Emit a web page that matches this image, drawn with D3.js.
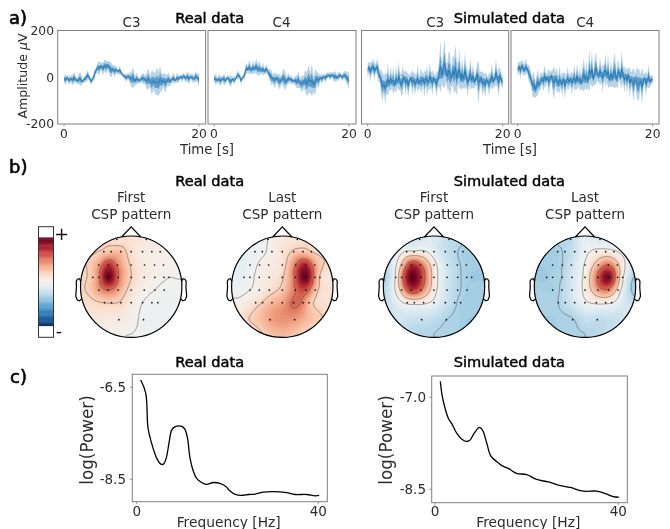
<!DOCTYPE html>
<html><head><meta charset="utf-8">
<script src="https://cdn.jsdelivr.net/npm/d3@7"></script>
<style>
html,body{margin:0;padding:0;background:#fff}
svg{display:block;font-family:'DejaVu Sans',sans-serif;filter:blur(0.35px)}
</style></head><body><div id="chart"></div>
<script>
// ---------- panel a: amplitude traces (mean and spread, µV) ----------
const realC3Mean=[-8,-10,-3,-14,-6,-12,-2,-10,-16,-6,-10,-18,-8,-4,10,-2,-18,-8,10,30,42,38,48,36,50,42,52,38,30,34,26,32,24,30,18,8,2,-2,4,-4,-8,-2,-16,-6,-12,-14,-4,-6,-10,-16,-6,-18,-24,-14,-26,-18,-28,-8,-22,-12,-26,-14,-10,-18,-8,-4,-14,-2,-8,2,-4,6,-6,4,-8,2,-2,-8,4,-2,-12];
const realC3Spread=[14,24,10,20,12,22,26,12,14,24,28,10,12,18,22,10,16,10,22,12,24,28,14,26,24,30,18,30,32,16,26,14,10,20,12,8,14,16,12,22,34,44,20,26,14,12,18,24,18,36,44,24,54,38,44,60,50,56,36,28,42,24,30,18,14,24,10,22,16,10,18,12,16,20,24,10,18,14,24,16,30];
const realC4Mean=[-4,-10,-12,-8,-16,-6,-10,-14,-2,-12,-18,-8,-14,-4,10,6,-14,-2,8,38,34,44,30,42,36,48,32,38,30,34,26,36,22,10,-2,-8,-14,-4,-12,-20,-10,-2,-14,-18,-6,-8,-12,-16,-14,-20,-10,-26,-28,-22,-14,-30,-8,-22,-12,-32,-20,-6,-14,-2,-8,2,-4,6,8,4,10,2,4,-2,6,8,-2,10,4,-6,-14];
const realC4Spread=[12,24,10,20,22,10,26,14,10,20,24,10,18,8,20,12,18,8,16,24,16,30,14,28,18,32,24,30,14,26,14,20,14,26,32,20,34,18,28,32,18,38,42,20,24,14,20,10,20,26,36,20,38,26,44,52,60,44,68,34,54,30,32,12,22,10,20,14,10,18,10,20,22,12,20,10,16,14,24,26,34];
const simC3Mean=[30,42,22,40,48,25,38,45,18,5,-20,-42,-30,-48,-25,-10,-28,-5,-22,-12,-30,-8,-18,5,-20,-32,-12,-2,-25,-8,-38,-15,-5,-22,-12,-30,-18,-4,-25,-12,-20,-8,-28,-6,-15,-22,5,-12,-24,-5,-18,-30,-8,20,45,10,35,60,22,5,30,12,-2,28,8,42,-5,18,35,-10,15,-8,28,5,-25,-5,18,-12,5,-20,-8,12,-25,-15,-5,-28,-18,-35,-10,-22,-30,-12,5,-18,-8,20,-5,-25,8,-12,-20];
const simC3Spread=[36,20,42,24,32,38,18,34,40,22,54,62,36,66,40,70,30,52,28,60,26,58,24,64,34,50,58,22,54,32,52,26,22,54,30,48,24,60,22,40,50,22,56,30,62,26,58,32,54,22,28,56,32,64,110,40,78,105,42,58,82,90,36,62,76,98,74,44,84,38,66,36,78,42,58,28,72,32,52,30,26,50,92,38,28,54,32,52,26,24,50,28,56,30,26,62,28,64,34,26,30];
const simC4Mean=[32,44,28,48,38,30,45,36,20,8,-12,-38,-30,-52,-35,-20,-32,-15,-8,-18,5,-12,-2,-20,-8,5,-18,-25,-5,-14,-28,-10,-20,-30,-8,-38,-15,-5,-20,-8,-25,-12,-2,-20,5,-15,-8,-22,-4,12,-10,5,-15,30,12,35,-8,22,40,15,5,28,10,-5,20,32,8,25,-10,15,-5,18,30,-8,10,25,-2,35,12,-12,5,-15,10,-25,-8,-20,-32,-10,-18,-35,-28,-15,-40,-20,-5,-28,-15,5,-20,-8,-12];
const simC4Spread=[32,20,38,22,34,20,36,18,34,38,28,44,58,34,46,56,24,38,22,42,46,26,20,58,30,24,52,70,26,56,30,60,24,52,26,58,20,52,30,24,50,26,56,30,58,22,48,28,54,70,36,62,30,92,38,78,28,56,70,32,26,60,30,58,32,70,28,72,30,58,34,60,78,30,60,36,28,82,32,58,26,56,26,66,28,50,72,24,58,70,62,28,80,36,22,50,26,52,24,20,18];
const ampTicks=[200,0,-200];
const timeTicks=[0,20];
const channelNames=["C3","C4","C3","C4"];

// ---------- panel b: scalp patterns, values at the sensors ----------
const sensorRows=[
 {dy:-142,dx:[-43,45]},
 {dy:-105,dx:[-82,-60,-31,0,34,62,87]},
 {dy:-65,dx:[-97,-68,-41,0,40,70,97]},
 {dy:-28,dx:[-115,-97,-69,-39,0,39,71,98,113]},
 {dy:10,dx:[-97,-69,-39,0,39,71,99]},
 {dy:48,dx:[-80,-59,-31,0,34,62,80]},
 {dy:99,dx:[-37,37]}];
const realFirst=[.14,.1, .25,.3,.3,.14,.07,.05,.04, .42,.75,.5,.2,.08,.05,.03, .3,.5,1,.55,.22,.08,.03,.01,0, .42,.55,.4,.15,.03,0,-.02, .22,.23,.2,.08,0,-.02,-.03, .08,-.03];
const realFirstEdge=[.14,.07,.04,-.01,-.03,-.03,-.02,.04,.12,.2,.22,.2];
const realFirstFill=[.12,.04,-.03,.0];
const realLast=[0,.12, -.05,-.03,.05,.12,.25,.28,.22, -.06,.02,.08,.14,.55,.8,.42, -.07,-.03,.04,.1,.2,.6,1,.45,.2, 0,.06,.16,.27,.55,.65,.3, .16,.23,.33,.4,.58,.5,.3, .4,.42];
const realLastEdge=[.08,.18,.2,.15,.18,.2,.28,.18,.08,-.03,-.08,-.05];
const realLastFill=[.21,.42,.26,.33];
const simFirst=[-.15,-.25, .02,.02,.03,-.1,-.22,-.28,-.33, .25,.75,.6,.08,-.2,-.28,-.33, .02,.45,1,.75,.12,-.18,-.28,-.33,-.36, .3,.72,.55,.08,-.2,-.28,-.33, .04,.06,.04,-.05,-.2,-.28,-.33, -.22,-.3];
const simFirstEdge=[-.12,-.28,-.34,-.36,-.36,-.34,-.3,-.26,-.2,-.3,-.2,-.18];
const simFirstFill=[-.17,-.27,-.35,-.3];
const simLast=[-.25,-.15, -.33,-.28,-.2,-.05,.05,.07,.03, -.34,-.3,-.2,.02,.35,.55,.28, -.36,-.31,-.3,-.15,.05,.6,.95,.35,.03, -.33,-.28,-.15,.05,.42,.5,.12, -.3,-.25,-.15,-.03,.03,.03,.01, -.31,-.25];
const simLastEdge=[-.06,-.12,-.1,-.38,-.15,-.22,-.3,-.33,-.33,-.34,-.34,-.28];
const simLastFill=[-.33,-.25,-.2,-.3];
const contourLevels=[-.3,0,.22,.55,.85];

// ---------- panel c: power spectra ----------
const realFreq=[.88,1.98,2.5,3.3,4.4,5.3,5.9,6.5,7.1,7.7,8.4,9.9,10.6,11.2,11.7,12.5,13.2,14.3,15.4,16.9,18.3,19.7,20.5,21.7,23.1,24.6,26.1,27.9,30.1,33,34.9,37.4,39.3,40.2];
const realPower=[-6.34,-6.62,-7.39,-7.72,-8.04,-8.17,-8.17,-8.04,-7.72,-7.43,-7.36,-7.35,-7.41,-7.61,-8.01,-8.33,-8.48,-8.57,-8.61,-8.57,-8.59,-8.66,-8.75,-8.83,-8.85,-8.83,-8.82,-8.78,-8.77,-8.79,-8.83,-8.83,-8.86,-8.85];
const simFreq=[1.16,1.6,2.2,2.9,3.8,4.7,5.8,6.8,7.6,8.6,9.7,10.4,11.3,12.2,13.5,14.5,16,17.8,20,22.2,24.7,26.9,29.5,32.4,35.3,37.5,38.9,40.1];
const simPower=[-6.74,-6.99,-7.18,-7.34,-7.45,-7.58,-7.68,-7.72,-7.70,-7.58,-7.49,-7.54,-7.75,-7.96,-8.05,-8.11,-8.16,-8.24,-8.26,-8.34,-8.38,-8.43,-8.47,-8.53,-8.53,-8.58,-8.62,-8.63];

const W=670,H=529;
const svg=d3.select("#chart").append("svg").attr("width",W).attr("height",H).attr("viewBox",`0 0 ${W} ${H}`);
const SPINE="#7f7f7f",TXT="#2b2b2b",BLUE="#1f77b4";
function text(s,x,y,size,opt={}){
  const t=svg.append("text").attr("x",x).attr("y",y).attr("font-size",size)
    .attr("text-anchor",opt.anchor||"middle").attr("fill",opt.fill||TXT).text(s);
  if(opt.rotate) t.attr("transform",`rotate(-90 ${x} ${y})`);
  if(opt.heavy) t.attr("stroke",opt.fill||"#000").attr("stroke-width",opt.heavy);
  return t;
}

// headings
[["a)",9,24],["b)",9,172.5],["c)",10,383]].forEach(d=>text(d[0],d[1],d[2],18,{anchor:"start",fill:"#000",heavy:.6}));
[["Real data",209.7,23.3],["Simulated data",509.3,23.3],["Real data",209.7,186],["Simulated data",509.3,186],["Real data",209.7,367.3],["Simulated data",509.3,367.3]]
  .forEach(d=>text(d[0],d[1],d[2],14.6,{fill:"#000",heavy:.45}));

// ---------- panel a ----------
const traces=[
 {mean:realC3Mean,spread:realC3Spread,box:[57.7,205.6],zero:64},
 {mean:realC4Mean,spread:realC4Spread,box:[208,356],zero:214},
 {mean:simC3Mean,spread:simC3Spread,box:[361.5,508.7],zero:367.7},
 {mean:simC4Mean,spread:simC4Spread,box:[511,659],zero:517.7}];
const ampY=d3.scaleLinear().domain([-200,200]).range([124,30.5]);
traces.forEach((tr,i)=>{
  const x=d3.scaleLinear().domain([0,20]).range([tr.zero,tr.zero+135]);
  const dt=20/(tr.mean.length-1);
  const g=svg.append("g");
  const band=f=>d3.area().x((d,k)=>x(k*dt)).y0((d,k)=>ampY(d-f*tr.spread[k])).y1((d,k)=>ampY(d+f*tr.spread[k]));
  g.append("path").datum(tr.mean).attr("fill",BLUE).attr("fill-opacity",.32).attr("d",band(1));
  g.append("path").datum(tr.mean).attr("fill",BLUE).attr("fill-opacity",.6).attr("d",band(.45));
  g.append("path").datum(tr.mean).attr("fill","none").attr("stroke",BLUE).attr("stroke-width",.9)
    .attr("d",d3.line().x((d,k)=>x(k*dt)).y(d=>ampY(d)));
  g.append("rect").attr("x",tr.box[0]).attr("y",ampY(200)).attr("width",tr.box[1]-tr.box[0]).attr("height",ampY(-200)-ampY(200))
    .attr("fill","none").attr("stroke",SPINE).attr("stroke-width",1);
  timeTicks.forEach(t=>{
    g.append("line").attr("x1",x(t)).attr("x2",x(t)).attr("y1",124).attr("y2",126.5).attr("stroke",SPINE).attr("stroke-width",.8);
    text(t,x(t),137.5,12.3);
  });
  text(channelNames[i],(tr.zero+67.5),26.7,13.5);
});
ampTicks.forEach(v=>{
  text(v===-200?"-200":v,54,ampY(v)+4.3,12.3,{anchor:"end"});
});
const ampLabel=text("",23,76,12.6,{rotate:true}).attr("dominant-baseline","middle");
ampLabel.append("tspan").text("Amplitude ");
ampLabel.append("tspan").attr("font-style","italic").text("μ");
ampLabel.append("tspan").text("V");
text("Time [s]",207,154,13.3);
text("Time [s]",510,154,13.3);

// ---------- panel b ----------
const heads=[
 {cx:131.2,vals:realFirst,edge:realFirstEdge,fill:realFirstFill,t:"First"},
 {cx:282.3,vals:realLast,edge:realLastEdge,fill:realLastFill,t:"Last"},
 {cx:434,vals:simFirst,edge:simFirstEdge,fill:simFirstFill,t:"First"},
 {cx:585,vals:simLast,edge:simLastEdge,fill:simLastFill,t:"Last"}];
const headR=50.7,headCy=286.7,pxUnit=152;
const sensors=sensorRows.flatMap(r=>r.dx.map(dx=>[dx/pxUnit,r.dy/pxUnit]));
const edgePts=d3.range(12).map(k=>{const a=k*Math.PI/6;return [1.03*Math.sin(a),-1.03*Math.cos(a)];});
const fillPts=[[-.68,.6],[0,.72],[.68,.6],[0,.93]];
const G=r=>r>1e-9?r*r*(Math.log(r)-1):0;
function solve(A,b){
  const n=b.length;A=A.map(r=>r.slice());b=b.slice();
  for(let i=0;i<n;i++){
    let p=i;for(let r=i+1;r<n;r++)if(Math.abs(A[r][i])>Math.abs(A[p][i]))p=r;
    [A[i],A[p]]=[A[p],A[i]];[b[i],b[p]]=[b[p],b[i]];
    for(let r=i+1;r<n;r++){const f=A[r][i]/A[i][i];for(let c=i;c<n;c++)A[r][c]-=f*A[i][c];b[r]-=f*b[i];}
  }
  const x=new Array(n);
  for(let i=n-1;i>=0;i--){let s=b[i];for(let c=i+1;c<n;c++)s-=A[i][c]*x[c];x[i]=s/A[i][i];}
  return x;
}
const red=t=>d3.interpolateRdBu(1-t);
const colorOf=d3.scaleLinear().domain([-1,1]).range([0,1]).clamp(true);
const earX=[.497,.510,.518,.5299,.5419,.54,.547,.532,.510,.489].map(v=>v*2);
const earY=[.0555,.0775,.0783,.0746,.0555,-.0055,-.0932,-.1313,-.1384,-.1199].map(v=>v*2);
const noseX=[.19,0,-.19],noseY=[.98,1.18,.98];
const defs=svg.append("defs");
heads.forEach((h,i)=>{
  const sx=d3.scaleLinear().domain([-1,1]).range([h.cx-headR,h.cx+headR]);
  const sy=d3.scaleLinear().domain([-1,1]).range([headCy-headR,headCy+headR]);
  const pts=sensors.concat(edgePts,fillPts),vals=h.vals.concat(h.edge,h.fill);
  const A=pts.map(p=>pts.map(q=>G(Math.hypot(p[0]-q[0],p[1]-q[1]))));
  const w=solve(A,vals);
  const N=150,gridX=d3.scaleLinear().domain([0,N]).range([-1.04,1.04]);
  const field=new Float64Array(N*N);
  for(let j=0;j<N;j++)for(let k=0;k<N;k++){
    const x=gridX(k+.5),y=gridX(j+.5);let s=0;
    for(let m=0;m<pts.length;m++)s+=w[m]*G(Math.hypot(x-pts[m][0],y-pts[m][1]));
    field[j*N+k]=s;
  }
  const proj=d3.geoTransform({point(x,y){this.stream.point(sx(gridX(x)),sy(gridX(y)));}});
  const path=d3.geoPath(proj);
  defs.append("clipPath").attr("id","hc"+i).append("circle").attr("cx",h.cx).attr("cy",headCy).attr("r",headR);
  const g=svg.append("g");
  const c=g.append("g").attr("clip-path",`url(#hc${i})`);
  const fillLevels=d3.range(-1.3,1.3,.025);
  c.append("circle").attr("cx",h.cx).attr("cy",headCy).attr("r",headR).attr("fill",red(colorOf(-1.3)));
  c.selectAll("path.f").data(d3.contours().size([N,N]).thresholds(fillLevels)(field)).join("path")
    .attr("d",path).attr("fill",d=>red(colorOf(d.value+.0125)));
  c.selectAll("path.l").data(d3.contours().size([N,N]).thresholds(contourLevels)(field)).join("path")
    .attr("class","l").attr("d",path).attr("fill","none").attr("stroke","#444").attr("stroke-opacity",.75).attr("stroke-width",.65);
  g.selectAll("circle.s").data(sensors).join("circle").attr("class","s")
    .attr("cx",d=>sx(d[0])).attr("cy",d=>sy(d[1])).attr("r",.85).attr("fill","#111");
  g.append("circle").attr("cx",h.cx).attr("cy",headCy).attr("r",headR).attr("fill","none").attr("stroke","#000").attr("stroke-width",1.2);
  const ln=d3.line().x(d=>sx(d[0])).y(d=>sy(-d[1]));
  const st=sel=>sel.attr("fill","none").attr("stroke","#000").attr("stroke-width",1.2);
  st(g.append("path").datum(noseX.map((v,k)=>[v,noseY[k]])).attr("d",ln));
  st(g.append("path").datum(earX.map((v,k)=>[v,earY[k]])).attr("d",ln));
  st(g.append("path").datum(earX.map((v,k)=>[-v,earY[k]])).attr("d",ln));
  text(h.t,h.cx,201.7,13.5);
  text("CSP pattern",h.cx,219.3,13.5);
});
// colour bar
const barY=d3.scaleLinear().domain([-1,1]).range([325.7,238.3]);
const barSteps=d3.range(-1,1.0001,.02);
svg.append("rect").attr("x",38.5).attr("y",226.7).attr("width",15).attr("height",110.6).attr("fill","#fff");
svg.append("g").selectAll("rect").data(barSteps).join("rect")
  .attr("x",38.5).attr("width",15).attr("y",d=>barY(d+.02)).attr("height",barY(-1)-barY(-.98)+.4)
  .attr("fill",d=>red(colorOf(d+.01)));
svg.append("rect").attr("x",38.5).attr("y",226.7).attr("width",15).attr("height",110.6).attr("fill","none").attr("stroke","#333").attr("stroke-width",1);
text("+",61.5,240,17.5,{fill:"#111"});
text("-",59,337,17.5,{fill:"#111"});

// ---------- panel c ----------
const spectra=[
 {f:realFreq,p:realPower,box:[132.3,327.3,374.3,501.7],x:[136.7,318.3],dom:[-6.5,-8.5],yr:[387.3,479.3],label:87,tickX:126,xl:228.7,xt:["-6.5","-8.5"]},
 {f:simFreq,p:simPower,box:[431.7,627.3,376,502.7],x:[435,618.3],dom:[-7,-8.5],yr:[397.3,489.3],label:386.7,tickX:426,xl:528.3,xt:["-7.0","-8.5"]}];
const freqTicks=[0,40];
spectra.forEach(s=>{
  const x=d3.scaleLinear().domain([0,40]).range(s.x);
  const y=d3.scaleLinear().domain(s.dom).range(s.yr);
  svg.append("rect").attr("x",s.box[0]).attr("y",s.box[2]).attr("width",s.box[1]-s.box[0]).attr("height",s.box[3]-s.box[2])
    .attr("fill","none").attr("stroke",SPINE).attr("stroke-width",1);
  svg.append("path").datum(s.f).attr("fill","none").attr("stroke","#000").attr("stroke-width",1.3)
    .attr("d",d3.line().curve(d3.curveCatmullRom).x(d=>x(d)).y((d,k)=>y(s.p[k])));
  freqTicks.forEach(t=>{
    svg.append("line").attr("x1",x(t)).attr("x2",x(t)).attr("y1",s.box[3]).attr("y2",s.box[3]+2.5).attr("stroke",SPINE).attr("stroke-width",.8);
    text(t,x(t),516,13.5);
  });
  s.dom.forEach((v,k)=>{
    svg.append("line").attr("x1",s.box[0]-2.5).attr("x2",s.box[0]).attr("y1",y(v)).attr("y2",y(v)).attr("stroke",SPINE).attr("stroke-width",.8);
    text(s.xt[k],s.tickX,y(v)+4.7,13.5,{anchor:"end"});
  });
  text("log(Power)",s.label+5.5,440,16.8,{rotate:true});
  text("Frequency [Hz]",s.xl,526.5,13.8);
});
</script></body></html>
